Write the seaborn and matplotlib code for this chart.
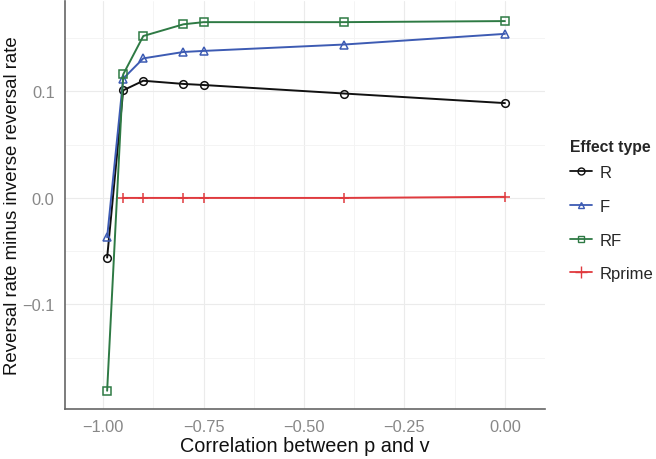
import numpy as np
import pandas as pd
import seaborn as sns
import matplotlib
matplotlib.use("Agg")
import matplotlib.pyplot as plt
from matplotlib.lines import Line2D

corr = [-0.99, -0.95, -0.90, -0.80, -0.75, -0.40, 0.00]
r_vals = [-0.056, 0.101, 0.110, 0.107, 0.106, 0.098, 0.089]
f_vals = [-0.037, 0.112, 0.131, 0.137, 0.138, 0.144, 0.154]
rf_vals = [-0.181, 0.116, 0.152, 0.163, 0.165, 0.165, 0.166]
rprime_corr = [-0.95, -0.90, -0.80, -0.75, -0.40, 0.00]
rprime_vals = [0.000, 0.000, 0.000, 0.000, 0.000, 0.001]

series_names = ["R", "F", "RF", "Rprime"]
colors = {"R": "#111111", "F": "#3D5BB3", "RF": "#2E7A44", "Rprime": "#E03A3E"}
markers = {"R": "o", "F": "^", "RF": "s", "Rprime": "+"}

rows = []
for name, xs, ys in [("R", corr, r_vals), ("F", corr, f_vals), ("RF", corr, rf_vals),
                     ("Rprime", rprime_corr, rprime_vals)]:
    for x, y in zip(xs, ys):
        rows.append({"corr": x, "value": y, "type": name})
df = pd.DataFrame(rows)

sns.set_style("white")
plt.rcParams['font.family'] = ['Liberation Sans', 'DejaVu Sans']

fig = plt.figure(figsize=(6.56, 4.6), dpi=100)
ax = fig.add_axes([0.099, 0.109, 0.732, 0.887])

for name in series_names:
    sub = df[df["type"] == name]
    sns.lineplot(data=sub, x="corr", y="value", ax=ax, color=colors[name],
                 marker=markers[name], markersize=5.5 if name != "Rprime" else 7.5,
                 markerfacecolor="none", markeredgecolor=colors[name],
                 markeredgewidth=1.1, linewidth=1.4, legend=False, zorder=3)

ax.set_xlim(-1.095, 0.10)
ax.set_ylim(-0.198, 0.185)
ax.set_xticks([-1.0, -0.75, -0.5, -0.25, 0.0])
ax.set_xticklabels(["\u22121.00", "\u22120.75", "\u22120.50", "\u22120.25", "0.00"])
ax.set_yticks([-0.1, 0.0, 0.1])
ax.set_yticklabels(["\u22120.1", "0.0", "0.1"])
ax.set_xticks([-0.875, -0.625, -0.375, -0.125], minor=True)
ax.set_yticks([-0.15, -0.05, 0.05, 0.15], minor=True)
ax.grid(True, which="major", color="#EBEBEB", linewidth=0.8)
ax.grid(True, which="minor", color="#F3F3F3", linewidth=0.6)
ax.set_axisbelow(True)

for s in ["top", "right"]:
    ax.spines[s].set_visible(False)
for s in ["left", "bottom"]:
    ax.spines[s].set_color("#666666")
    ax.spines[s].set_linewidth(1.2)
ax.tick_params(axis="both", which="major", direction="out", length=4.5, width=1,
               color="#666666", labelcolor="#888888", labelsize=11.8, pad=3)
ax.tick_params(axis="both", which="minor", length=0)

ax.set_xlabel("Correlation between p and v", fontsize=14.3, color="#111111", labelpad=1)
ax.set_ylabel("Reversal rate minus inverse reversal rate", fontsize=13.4, color="#111111")
ax.yaxis.set_label_coords(-0.092, 0.5)

handles = [Line2D([0], [0], color=colors[n], marker=markers[n], markerfacecolor="none",
                  markeredgecolor=colors[n], markersize=5 if n != "Rprime" else 9,
                  linewidth=1.3) for n in series_names]
leg = fig.legend(handles, series_names, title="Effect type", loc="upper left",
                 bbox_to_anchor=(0.859, 0.710), frameon=False, fontsize=12,
                 handlelength=1.3, handletextpad=0.45, labelspacing=1.12,
                 title_fontsize=11.3, alignment="left", borderaxespad=0)
leg.get_title().set_fontweight("bold")
leg._legend_box.sep = 8

fig.savefig("out.png", dpi=100)
